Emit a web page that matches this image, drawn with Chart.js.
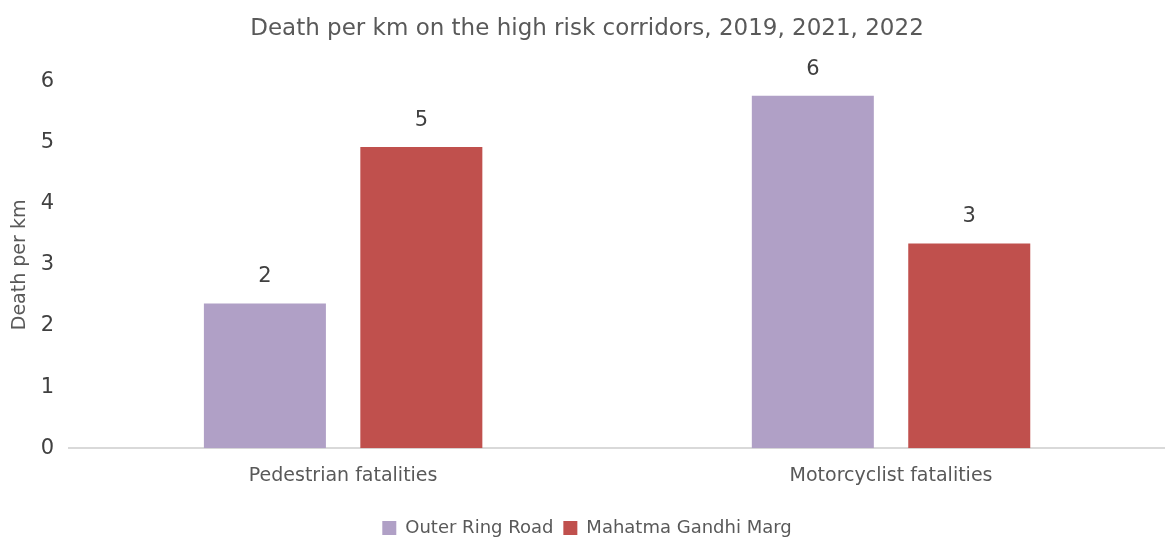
<!DOCTYPE html>
<html>
<head>
<meta charset="utf-8">
<script src="https://cdn.jsdelivr.net/npm/chart.js@4"></script>
<style>
    body { margin: 0; background: #ffffff; }
    #wrap { width: 1165px; height: 540px; }
</style>
</head>
<body>
<div id="wrap"><canvas id="chart" width="1165" height="540"></canvas></div>
<script>
// chart data
let categories = ["Pedestrian fatalities", "Motorcyclist fatalities"];
let seriesNames = ["Outer Ring Road", "Mahatma Gandhi Marg"];
let outerRingRoad = [2.37, 5.77];
let mahatmaGandhiMarg = [4.93, 3.35];
let yTicks = [0, 1, 2, 3, 4, 5, 6];

let fontFamily = "'DejaVu Sans', sans-serif";
let textColor = "#595959";

// draws the rounded value above each bar (no datalabels plugin offline)
const valueLabels = {
    id: "valueLabels",
    afterDatasetsDraw(chart) {
        let ctx = chart.ctx;
        ctx.save();
        ctx.font = "21px " + fontFamily;
        ctx.fillStyle = "#404040";
        ctx.textAlign = "center";
        ctx.textBaseline = "bottom";
        chart.data.datasets.forEach((ds, i) => {
            chart.getDatasetMeta(i).data.forEach((bar, j) => {
                ctx.fillText(Math.round(ds.data[j]), bar.x, bar.y - 16);
            });
        });
        ctx.restore();
    }
};

let chart = new Chart(document.getElementById("chart"), {
    type: "bar",
    data: {
        labels: categories,
        datasets: [
            {
                label: seriesNames[0],
                data: outerRingRoad,
                backgroundColor: "#b0a0c6"
            },
            {
                label: seriesNames[1],
                data: mahatmaGandhiMarg,
                backgroundColor: "#c0504d"
            }
        ]
    },
    options: {
        responsive: false,
        animation: false,
        devicePixelRatio: 1,
        categoryPercentage: 0.571,
        barPercentage: 0.78,
        layout: { padding: { left: 9, right: 0, top: 2, bottom: -7 } },
        plugins: {
            title: {
                display: true,
                text: "Death per km on the high risk corridors, 2019, 2021, 2022",
                color: textColor,
                font: { family: fontFamily, size: 23, weight: "normal" },
                padding: { top: 13, bottom: 39 }
            },
            legend: {
                position: "bottom",
                labels: {
                    color: textColor,
                    font: { family: fontFamily, size: 18 },
                    boxWidth: 14,
                    boxHeight: 14,
                    padding: 10
                }
            },
            tooltip: { enabled: false }
        },
        scales: {
            x: {
                grid: { display: false },
                border: { color: "#d9d9d9", width: 2 },
                ticks: {
                    color: textColor,
                    font: { family: fontFamily, size: 19 },
                    padding: 8
                },
                // leave room between the category labels and the legend
                afterFit: (scale) => {
                    scale.height += 14;
                }
            },
            y: {
                min: 0,
                max: yTicks[yTicks.length - 1],
                afterBuildTicks: (axis) => {
                    axis.ticks = yTicks.map(v => ({ value: v }));
                },
                grid: { display: false },
                border: { display: false },
                ticks: {
                    color: "#404040",
                    font: { family: fontFamily, size: 21 },
                    padding: 7
                },
                title: {
                    display: true,
                    text: "Death per km",
                    color: textColor,
                    font: { family: fontFamily, size: 19 },
                    padding: { top: 0, bottom: 2 }
                }
            }
        }
    },
    plugins: [valueLabels]
});
</script>
</body>
</html>
